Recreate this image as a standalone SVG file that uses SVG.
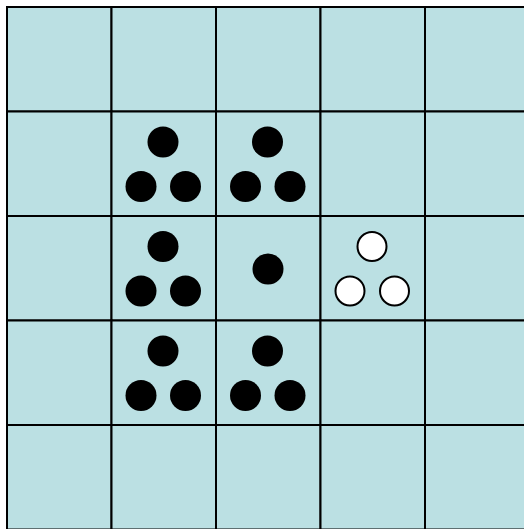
<svg xmlns="http://www.w3.org/2000/svg" width="524" height="529" viewBox="0 0 524 529">
<style>
.cell{fill:#bbe0e3;stroke:#000;stroke-width:2}
.b{fill:#000}
.w{fill:#fff;stroke:#000;stroke-width:2}
</style>
<g id="grid">
<rect class="cell" x="7" y="7" width="104.5" height="104.5"/>
<rect class="cell" x="111.5" y="7" width="104.5" height="104.5"/>
<rect class="cell" x="216" y="7" width="104.5" height="104.5"/>
<rect class="cell" x="320.5" y="7" width="104.5" height="104.5"/>
<rect class="cell" x="425" y="7" width="104.5" height="104.5"/>
<rect class="cell" x="7" y="111.5" width="104.5" height="104.5"/>
<rect class="cell" x="111.5" y="111.5" width="104.5" height="104.5"/>
<rect class="cell" x="216" y="111.5" width="104.5" height="104.5"/>
<rect class="cell" x="320.5" y="111.5" width="104.5" height="104.5"/>
<rect class="cell" x="425" y="111.5" width="104.5" height="104.5"/>
<rect class="cell" x="7" y="216" width="104.5" height="104.5"/>
<rect class="cell" x="111.5" y="216" width="104.5" height="104.5"/>
<rect class="cell" x="216" y="216" width="104.5" height="104.5"/>
<rect class="cell" x="320.5" y="216" width="104.5" height="104.5"/>
<rect class="cell" x="425" y="216" width="104.5" height="104.5"/>
<rect class="cell" x="7" y="320.5" width="104.5" height="104.5"/>
<rect class="cell" x="111.5" y="320.5" width="104.5" height="104.5"/>
<rect class="cell" x="216" y="320.5" width="104.5" height="104.5"/>
<rect class="cell" x="320.5" y="320.5" width="104.5" height="104.5"/>
<rect class="cell" x="425" y="320.5" width="104.5" height="104.5"/>
<rect class="cell" x="7" y="425" width="104.5" height="104.5"/>
<rect class="cell" x="111.5" y="425" width="104.5" height="104.5"/>
<rect class="cell" x="216" y="425" width="104.5" height="104.5"/>
<rect class="cell" x="320.5" y="425" width="104.5" height="104.5"/>
<rect class="cell" x="425" y="425" width="104.5" height="104.5"/>
</g>
<g id="dots-1-1"><circle class="b" cx="163" cy="142" r="15.5"/><circle class="b" cx="141" cy="186.5" r="15.5"/><circle class="b" cx="185.5" cy="186.5" r="15.5"/></g>
<g id="dots-1-2"><circle class="b" cx="267.5" cy="142" r="15.5"/><circle class="b" cx="245.5" cy="186.5" r="15.5"/><circle class="b" cx="290" cy="186.5" r="15.5"/></g>
<g id="dots-2-1"><circle class="b" cx="163" cy="246.5" r="15.5"/><circle class="b" cx="141" cy="291" r="15.5"/><circle class="b" cx="185.5" cy="291" r="15.5"/></g>
<g id="dots-2-2"><circle class="b" cx="268" cy="269" r="15.5"/></g>
<g id="dots-2-3"><circle class="w" cx="372" cy="246.5" r="14.5"/><circle class="w" cx="350" cy="291" r="14.5"/><circle class="w" cx="394.5" cy="291" r="14.5"/></g>
<g id="dots-3-1"><circle class="b" cx="163" cy="351" r="15.5"/><circle class="b" cx="141" cy="395.5" r="15.5"/><circle class="b" cx="185.5" cy="395.5" r="15.5"/></g>
<g id="dots-3-2"><circle class="b" cx="267.5" cy="351" r="15.5"/><circle class="b" cx="245.5" cy="395.5" r="15.5"/><circle class="b" cx="290" cy="395.5" r="15.5"/></g>
<g id="connectors"/>
</svg>
